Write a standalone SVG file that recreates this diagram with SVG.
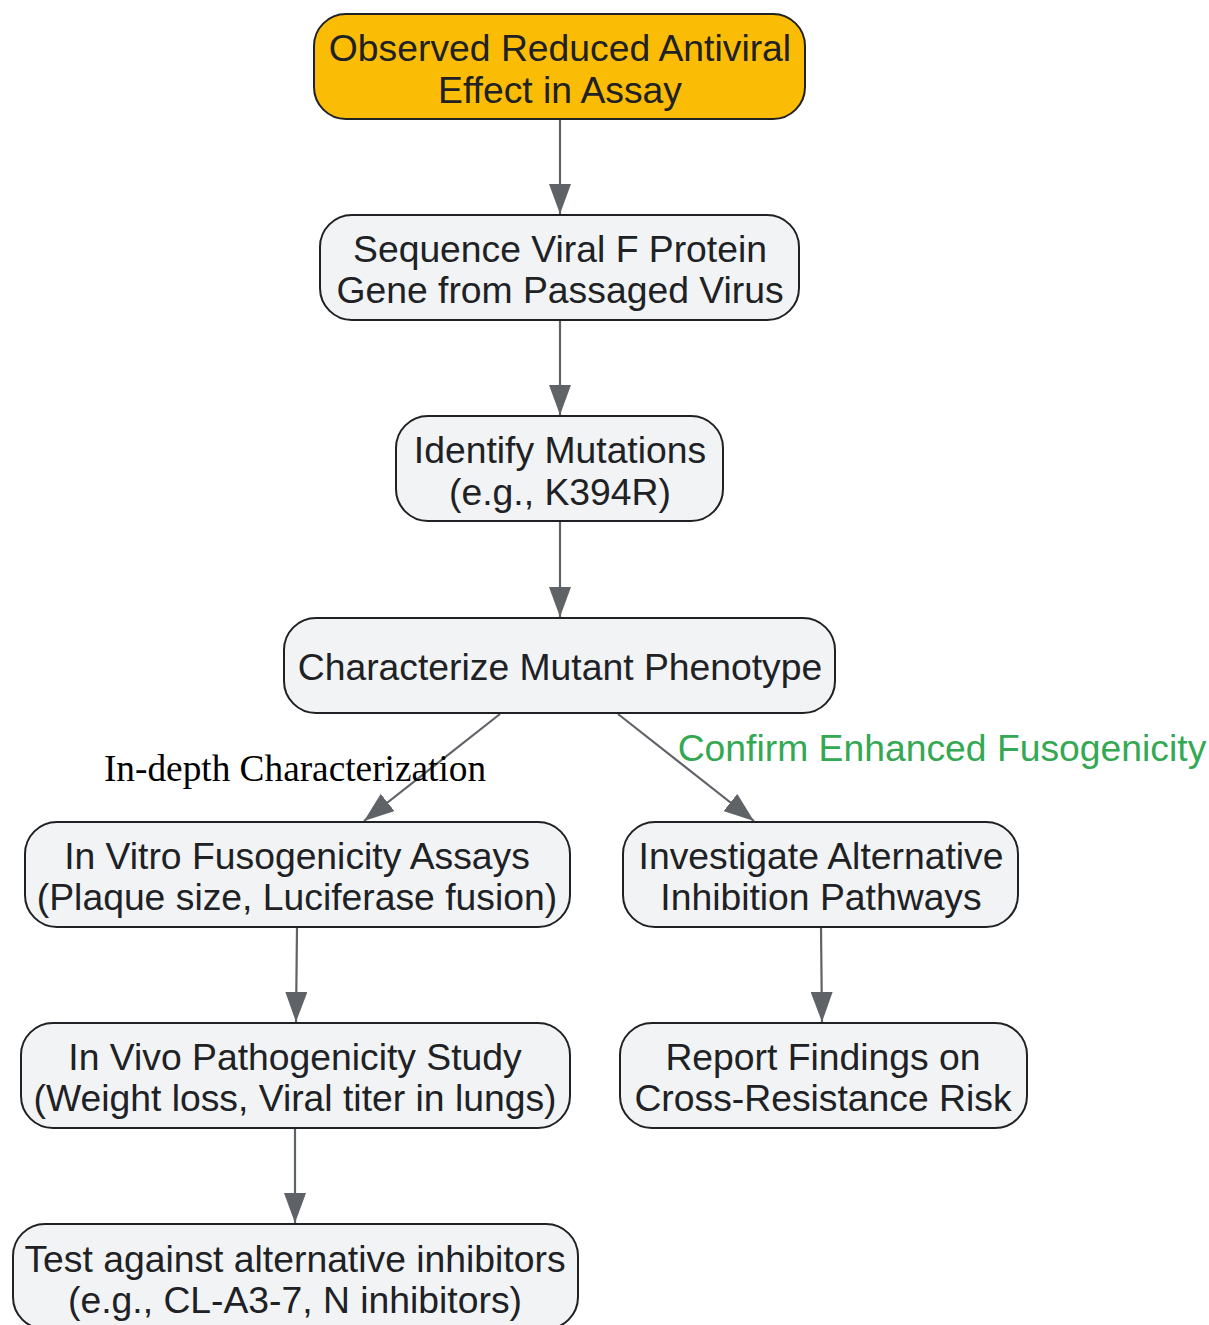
<svg xmlns="http://www.w3.org/2000/svg" width="1209" height="1325" viewBox="0 0 1209 1325">
<defs>
<marker id="arr" markerUnits="userSpaceOnUse" markerWidth="30" markerHeight="22" refX="30" refY="11" orient="auto">
<path d="M0,0 L30,11 L0,22 z" fill="#5F6368"/>
</marker>
<style>
.n rect{fill:#F1F3F4;stroke:#202124;stroke-width:2}
.n text{font-family:"Liberation Sans",Arial,sans-serif;font-size:37.3px;fill:#202124;text-anchor:middle}
#edges line{stroke:#5F6368;stroke-width:2.2;marker-end:url(#arr)}
.lbl{font-size:37.3px;text-anchor:middle}
</style>
</defs>
<rect width="1209" height="1325" fill="#FFFFFF"/>
<g id="edges">
<line x1="560" y1="119" x2="560" y2="214"/>
<line x1="560" y1="320" x2="560" y2="415"/>
<line x1="560" y1="521" x2="560" y2="617"/>
<line x1="500" y1="714" x2="364" y2="821"/>
<line x1="618" y1="714" x2="754" y2="821"/>
<line x1="297" y1="927" x2="296" y2="1022"/>
<line x1="821" y1="927" x2="822" y2="1022"/>
<line x1="295" y1="1128" x2="295" y2="1223"/>
<text class="lbl" x="295" y="781" font-family="'Liberation Serif','Times New Roman',serif" fill="#000000">In-depth Characterization</text>
<text class="lbl" x="942" y="761" font-family="'Liberation Sans',Arial,sans-serif" fill="#34A853">Confirm Enhanced Fusogenicity</text>
</g>
<g id="n1" class="n">
<rect x="314" y="14" width="491" height="105" rx="32" style="fill:#FBBC05"/>
<text x="560" y="61">Observed Reduced Antiviral</text>
<text x="560" y="103">Effect in Assay</text>
</g>
<g id="n2" class="n">
<rect x="320" y="215" width="479" height="105" rx="32"/>
<text x="560" y="262">Sequence Viral F Protein</text>
<text x="560" y="303">Gene from Passaged Virus</text>
</g>
<g id="n3" class="n">
<rect x="396" y="416" width="327" height="105" rx="32"/>
<text x="560" y="463">Identify Mutations</text>
<text x="560" y="505">(e.g., K394R)</text>
</g>
<g id="n4" class="n">
<rect x="284" y="618" width="551" height="95" rx="32"/>
<text x="560" y="680">Characterize Mutant Phenotype</text>
</g>
<g id="n5" class="n">
<rect x="25" y="822" width="545" height="105" rx="32"/>
<text x="297" y="869">In Vitro Fusogenicity Assays</text>
<text x="297" y="910">(Plaque size, Luciferase fusion)</text>
</g>
<g id="n6" class="n">
<rect x="623" y="822" width="395" height="105" rx="32"/>
<text x="821" y="869">Investigate Alternative</text>
<text x="821" y="910">Inhibition Pathways</text>
</g>
<g id="n7" class="n">
<rect x="21" y="1023" width="549" height="105" rx="32"/>
<text x="295" y="1070">In Vivo Pathogenicity Study</text>
<text x="295" y="1111">(Weight loss, Viral titer in lungs)</text>
</g>
<g id="n8" class="n">
<rect x="620" y="1023" width="407" height="105" rx="32"/>
<text x="823" y="1070">Report Findings on</text>
<text x="823" y="1111">Cross-Resistance Risk</text>
</g>
<g id="n9" class="n">
<rect x="13" y="1224" width="565" height="105" rx="32"/>
<text x="295" y="1272">Test against alternative inhibitors</text>
<text x="295" y="1313">(e.g., CL-A3-7, N inhibitors)</text>
</g>
</svg>
